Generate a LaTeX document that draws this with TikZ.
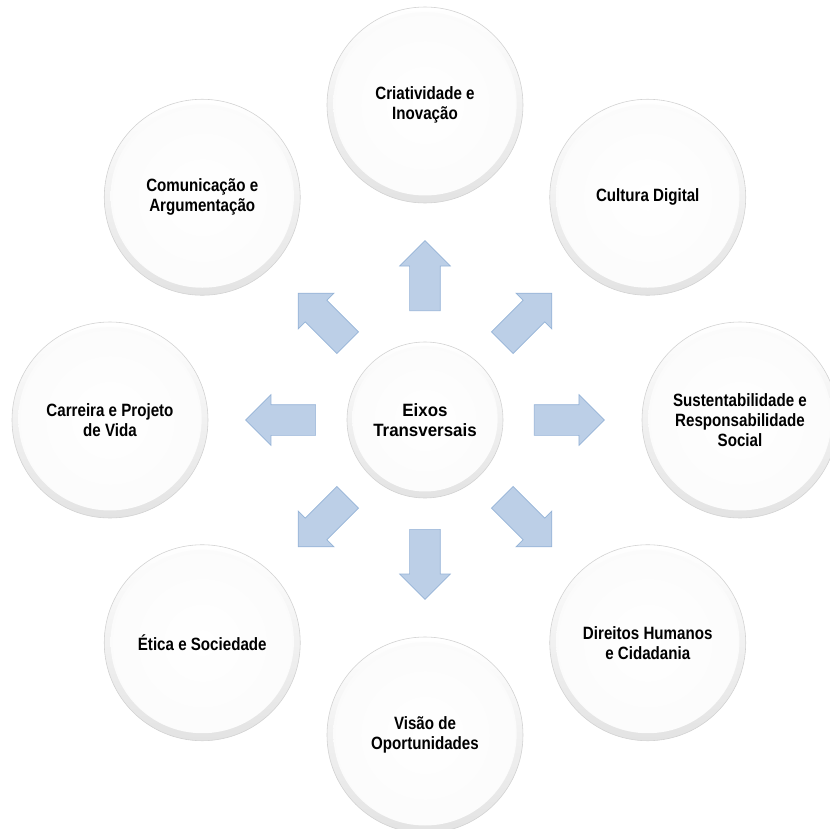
\documentclass[tikz,border=0pt]{standalone}
\usepackage{fontspec}
\setmainfont[FakeStretch=0.95]{Liberation Sans}
\newfontfamily\topicfont[FakeStretch=0.85]{Liberation Sans}
\usepackage{tikz}
\usetikzlibrary{shapes,arrows}
\definecolor{arrowfill}{RGB}{188,207,231}
\definecolor{arrowline}{RGB}{149,179,215}
\tikzstyle{topic}=[circle,minimum size=5.88cm,inner sep=0pt,draw=gray!35,line width=0.5pt,
    top color=white,bottom color=gray!22,align=center,
    font=\topicfont\fontsize{15.2}{17}\selectfont\bfseries,
    path picture={\shade[inner color=white,outer color=gray!3]
        ([yshift=1pt]path picture bounding box.center) circle (2.75cm);}]
\tikzstyle{hub}=[topic,minimum size=4.68cm,
    font=\fontsize{15.2}{17}\selectfont\bfseries,
    path picture={\shade[inner color=white,outer color=gray!3]
        ([yshift=1pt]path picture bounding box.center) circle (2.18cm);}]
\tikzstyle{blockarrow}=[single arrow,anchor=tail,minimum height=2.1cm,inner xsep=0pt,inner ysep=0.45cm,
    single arrow head extend=0.3cm,fill=arrowfill,draw=arrowline,line width=0.6pt]

\begin{document}
\begin{tikzpicture}
    \useasboundingbox (-12.75,-12.24) rectangle (12.15,12.6);
    % Eixos in the middle
    \node[hub] (eixos) at (0,0) {Eixos\\Transversais};
    % Then the eight topics round it
    \foreach \ang/\name/\txt in {90/criat/{Criatividade e\\Inovação}, 45/digital/{Cultura Digital},
        0/sustent/{Sustentabilidade e\\Responsabilidade\\Social}, -45/direitos/{Direitos Humanos\\e Cidadania},
        -90/visao/{Visão de\\Oportunidades}, -135/etica/{Ética e Sociedade},
        180/carreira/{Carreira e Projeto\\de Vida}, 135/comunic/{Comunicação e\\Argumentação}}
        \node[topic] (\name) at (\ang:9.45) {\txt};
    % Block arrows pointing out of the hub
    \foreach \ang/\name in {90/criat, 45/digital, 0/sustent, -45/direitos,
        -90/visao, -135/etica, 180/carreira, 135/comunic}
        \node[blockarrow,rotate=\ang] (arr-\name) at (\ang:3.27) {};
\end{tikzpicture}
\end{document}
